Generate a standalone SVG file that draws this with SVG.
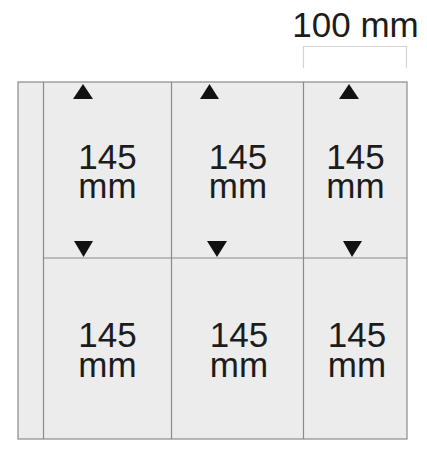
<svg xmlns="http://www.w3.org/2000/svg" width="427" height="452" viewBox="0 0 427 452">
<style>
.ln{stroke:#8a8a8a;stroke-width:1.2;fill:none}
.sheet{stroke:#8a8a8a;stroke-width:1.2;fill:#ececed}
.t{font-family:"Liberation Sans",Arial,sans-serif;font-size:35px;fill:#1c1c1c;text-anchor:middle}
.tri{fill:#111}
</style>
<rect width="427" height="452" fill="#fff"/>
<g id="dimension">
<path d="M303.5 68V46.5H406.5V68" stroke="#d4d4d4" stroke-width="1.2" fill="none"/>
<text class="t" x="355.5" y="37">100 mm</text>
</g>
<g id="sheet">
<rect class="sheet" x="18" y="82" width="389" height="357"/>
</g>
<g id="connectors">
<line class="ln" x1="43.5" y1="82" x2="43.5" y2="439"/>
<line class="ln" x1="171.5" y1="82" x2="171.5" y2="439"/>
<line class="ln" x1="303.5" y1="82" x2="303.5" y2="439"/>
<line class="ln" x1="43.5" y1="258" x2="407" y2="258"/>
</g>
<g id="cell-1-1">
<polygon class="tri" points="83,84 73,99 93,99"/>
<polygon class="tri" points="83.5,257 74,241 93,241"/>
<text class="t"><tspan x="107.5" y="169">145</tspan><tspan x="107.5" y="198">mm</tspan></text>
</g>
<g id="cell-1-2">
<polygon class="tri" points="209.5,84 200,99 219,99"/>
<polygon class="tri" points="217,257 207,241 227,241"/>
<text class="t"><tspan x="238" y="169">145</tspan><tspan x="238" y="198">mm</tspan></text>
</g>
<g id="cell-1-3">
<polygon class="tri" points="349,84 339,99 359,99"/>
<polygon class="tri" points="352,257 343,241 362,241"/>
<text class="t"><tspan x="355.5" y="169">145</tspan><tspan x="355.5" y="198">mm</tspan></text>
</g>
<g id="cell-2-1">
<text class="t"><tspan x="107.5" y="347">145</tspan><tspan x="107.5" y="377">mm</tspan></text>
</g>
<g id="cell-2-2">
<text class="t"><tspan x="239" y="347">145</tspan><tspan x="239" y="377">mm</tspan></text>
</g>
<g id="cell-2-3">
<text class="t"><tspan x="357" y="347">145</tspan><tspan x="357" y="377">mm</tspan></text>
</g>
</svg>
